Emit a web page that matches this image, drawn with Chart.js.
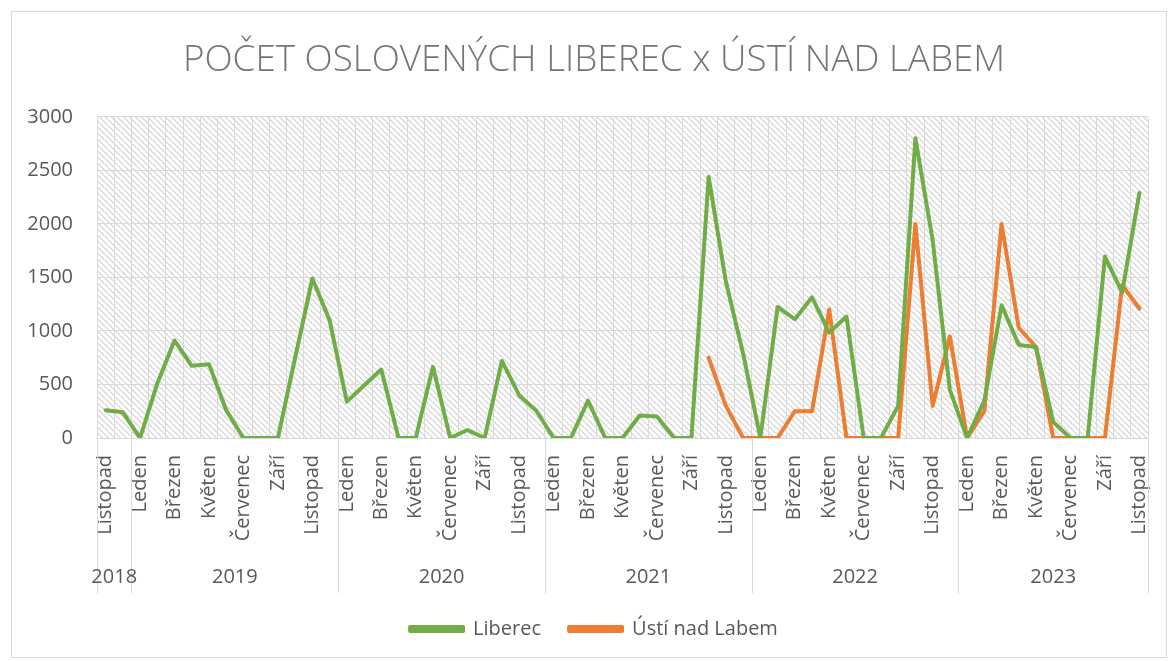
<!DOCTYPE html>
<html>
<head>
<meta charset="utf-8">
<script src="https://cdn.jsdelivr.net/npm/chart.js@4.4.0/dist/chart.umd.min.js"></script>
<style>
  body { margin: 0; background: #fff; }
  #wrap { position: relative; width: 1170px; height: 661px; }
  #frame { position: absolute; left: 11px; top: 11px; width: 1156px; height: 647px; border: 1px solid #d9d9d9; box-sizing: border-box; pointer-events: none; }
  canvas { position: absolute; left: 0; top: 0; }
</style>
</head>
<body>
<div id="wrap">
  <canvas id="chartCanvas" width="1170" height="661"></canvas>
  <div id="frame"></div>
</div>
<script>
const monthNames = ['Leden','Únor','Březen','Duben','Květen','Červen','Červenec','Srpen','Září','Říjen','Listopad','Prosinec'];
const firstYear = 2018, firstMonth = 10;   // listopad 2018
const lastYear = 2023, lastMonth = 10;     // listopad 2023

const liberec = [
  260, 240,
  0, 510, 910, 675, 690, 260, 0, 0, 0, 750, 1490, 1100,
  340, 490, 640, 0, 0, 665, 0, 75, 0, 720, 400, 255,
  0, 0, 350, 0, 0, 210, 200, 0, 0, 2440, 1460, 790,
  0, 1225, 1110, 1315, 985, 1135, 0, 0, 300, 2800, 1850, 450,
  0, 350, 1240, 870, 850, 150, 0, 0, 1695, 1360, 2290
];
const usti = [
  null, null,
  null, null, null, null, null, null, null, null, null, null, null, null,
  null, null, null, null, null, null, null, null, null, null, null, null,
  null, null, null, null, null, null, null, null, null, 750, 300, 0,
  0, 0, 250, 250, 1200, 0, 0, 0, 0, 2000, 300, 950,
  0, 250, 2000, 1030, 850, 0, 0, 0, 0, 1430, 1210
];

let labels = [];
let labelYears = [];
for (let y = firstYear, m = firstMonth; y < lastYear || (y === lastYear && m <= lastMonth); ) {
  labels.push(monthNames[m]);
  labelYears.push(y);
  m++;
  if (m > 11) { m = 0; y++; }
}

const gray = '#595959';
const gridColor = '#d9d9d9';
Chart.defaults.font.family = "'Open Sans', sans-serif";
Chart.defaults.color = gray;

// sraffovane pozadi plochy grafu
function makeHatch(){
  const c = document.createElement('canvas');
  c.width = 6; c.height = 6;
  const g = c.getContext('2d');
  g.fillStyle = '#ffffff';
  g.fillRect(0,0,6,6);
  g.fillStyle = '#dcdcdc';
  for(let i=0;i<6;i++){
    g.fillRect(i, i, 1, 1);
    g.fillRect((i+1)%6, i, 1, 1);
  }
  return g.createPattern(c, 'repeat');
}

const hatchPlugin = {
  id: 'hatch',
  afterLayout(chart){
    // titulek a legenda jsou v Excelu vystredene trochu vpravo
    if (chart.titleBlock) chart.titleBlock.left = 40;
    if (chart.legend) chart.legend.left = 40;
  },
  beforeDraw(chart){
    const {ctx, chartArea} = chart;
    ctx.save();
    ctx.fillStyle = makeHatch();
    ctx.fillRect(chartArea.left, chartArea.top, chartArea.right-chartArea.left, chartArea.bottom-chartArea.top);
    ctx.restore();
  }
};

const yearPlugin = {
  id: 'years',
  afterDraw(chart){
    const {ctx, chartArea} = chart;
    const xs = chart.scales.x;
    const half = (xs.getPixelForValue(1) - xs.getPixelForValue(0)) / 2;
    const edge = i => i < labels.length ? xs.getPixelForValue(i) - half : xs.getPixelForValue(labels.length-1) + half;
    let starts = [0];
    for(let i=1;i<labelYears.length;i++){ if(labelYears[i]!==labelYears[i-1]) starts.push(i); }
    starts.push(labels.length);
    ctx.save();
    ctx.strokeStyle = gridColor;
    ctx.lineWidth = 1;
    starts.forEach(i=>{
      const px = Math.round(edge(i)) + 0.5;
      ctx.beginPath();
      ctx.moveTo(px, chartArea.bottom);
      ctx.lineTo(px, chartArea.bottom + 155);
      ctx.stroke();
    });
    ctx.fillStyle = gray;
    ctx.font = "20px 'Open Sans', sans-serif";
    ctx.textAlign = 'center';
    ctx.textBaseline = 'middle';
    for(let k=0;k<starts.length-1;k++){
      const cx = (edge(starts[k]) + edge(starts[k+1])) / 2;
      ctx.fillText(String(labelYears[starts[k]]), cx, chartArea.bottom + 139);
    }
    ctx.restore();
  }
};

const ctx = document.getElementById('chartCanvas').getContext('2d');
const chart = new Chart(ctx, {
  type: 'line',
  data: {
    labels: labels,
    datasets: [
      { label: 'Liberec', data: liberec, borderColor: '#70ad47', backgroundColor: '#70ad47', borderWidth: 4, pointRadius: 0, tension: 0, borderJoinStyle: 'round', borderCapStyle: 'round' },
      { label: 'Ústí nad Labem', data: usti, borderColor: '#ed7d31', backgroundColor: '#ed7d31', borderWidth: 4, pointRadius: 0, tension: 0, borderJoinStyle: 'round', borderCapStyle: 'round' }
    ]
  },
  options: {
    responsive: false,
    animation: false,
    devicePixelRatio: 1,
    layout: { padding: { left: 0, right: 22, top: 0, bottom: 12 } },
    plugins: {
      title: {
        display: true,
        text: 'POČET OSLOVENÝCH LIBEREC x ÚSTÍ NAD LABEM',
        color: '#757575',
        font: { size: 36.8, weight: '300' },
        padding: { top: 38, bottom: 34.8 }
      },
      legend: {
        position: 'bottom',
        labels: { boxWidth: 53, boxHeight: 4, font: { size: 20 }, color: gray, padding: 28 }
      },
      tooltip: { enabled: false }
    },
    scales: {
      x: {
        offset: true,
        grid: { offset: true, color: gridColor, drawTicks: false },
        border: { color: gridColor },
        ticks: {
          autoSkip: false, minRotation: 90, maxRotation: 90, padding: 17,
          font: { size: 20 }, color: gray,
          callback: (v, i) => i % 2 === 0 ? labels[i] : ''
        },
        afterFit: s => { s.height = 153; s.paddingLeft = 0; s.paddingRight = 0; }
      },
      y: {
        min: 0, max: 3000,
        grid: { color: gridColor, drawTicks: false },
        border: { display: false },
        ticks: { stepSize: 500, padding: 24, font: { size: 20 }, color: gray, callback: v => String(v) },
        afterFit: s => { s.width = 97; }
      }
    }
  },
  plugins: [hatchPlugin, yearPlugin]
});
</script>
</body>
</html>
